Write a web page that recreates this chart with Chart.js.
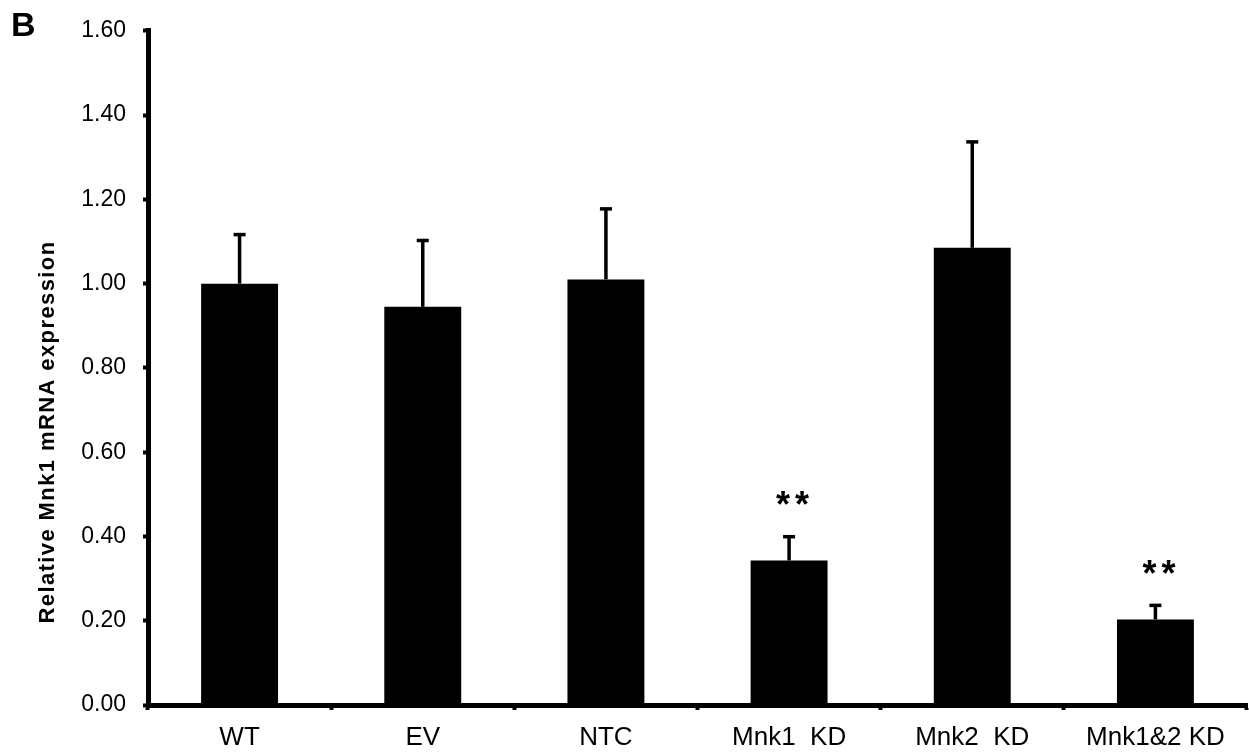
<!DOCTYPE html>
<html>
<head>
  <meta charset="UTF-8" />
  <title>Relative Mnk1 mRNA expression</title>
  <script src="https://cdn.jsdelivr.net/npm/chart.js"></script>
  <style>
    html, body { margin: 0; padding: 0; background: #fff; }
    #wrap { width: 1249px; height: 756px; }
  </style>
</head>
<body>
  <div id="wrap"><canvas id="chart" width="1249" height="756"></canvas></div>
  <script>
    const groups = ['WT', 'EV', 'NTC', 'Mnk1  KD', 'Mnk2  KD', 'Mnk1&2 KD'];
    const expression = [1.00, 0.945, 1.01, 0.343, 1.085, 0.203];
    const errors = [0.117, 0.158, 0.168, 0.057, 0.252, 0.034];
    const stars = ['', '', '', '**', '', '**'];
    const yTicks = [0, 0.2, 0.4, 0.6, 0.8, 1.0, 1.2, 1.4, 1.6];

    const font = "'Liberation Sans', Arial, sans-serif";

    // error bars, significance marks, y title and panel letter
    const extras = {
      id: 'extras',
      afterDatasetsDraw(chart) {
        const ctx = chart.ctx;
        const y = chart.scales.y;
        const bars = chart.getDatasetMeta(0).data;
        ctx.save();
        ctx.fillStyle = '#000';
        ctx.strokeStyle = '#000';
        bars.forEach((bar, i) => {
          const top = y.getPixelForValue(expression[i] + errors[i]);
          ctx.lineWidth = 3.5;
          ctx.beginPath();
          ctx.moveTo(bar.x, bar.y);
          ctx.lineTo(bar.x, top);
          ctx.stroke();
          ctx.fillRect(bar.x - 6, top - 1.5, 12, 3.5);
          if (stars[i]) {
            ctx.font = 'bold 36px ' + font;
            ctx.textAlign = 'center';
            ctx.textBaseline = 'alphabetic';
            ctx.fillText('*', bar.x - 6, top - 19);
            ctx.fillText('*', bar.x + 13, top - 19);
          }
        });
        ctx.restore();
      },
      afterDraw(chart) {
        const ctx = chart.ctx;
        ctx.save();
        ctx.fillStyle = '#000';
        ctx.font = 'bold 34px ' + font;
        ctx.textAlign = 'left';
        ctx.textBaseline = 'top';
        ctx.fillText('B', 11, 10);
        ctx.translate(48, 432);
        ctx.rotate(-Math.PI / 2);
        ctx.font = 'bold 22px ' + font;
        ctx.textAlign = 'center';
        ctx.textBaseline = 'middle';
        if ('letterSpacing' in ctx) ctx.letterSpacing = '1.4px';
        ctx.fillText('Relative Mnk1 mRNA expression', 0, 0);
        ctx.restore();
      }
    };

    new Chart(document.getElementById('chart'), {
      type: 'bar',
      data: {
        labels: groups,
        datasets: [{
          data: expression,
          backgroundColor: '#000',
          borderWidth: 0,
          categoryPercentage: 1.0,
          barPercentage: 0.42
        }]
      },
      options: {
        responsive: false,
        animation: false,
        events: [],
        layout: { padding: { top: 25, right: 2, left: 0, bottom: 0 } },
        plugins: {
          legend: { display: false },
          tooltip: { enabled: false }
        },
        scales: {
          x: {
            afterFit(scale) { scale.height = 51; },
            border: { display: true, color: '#000', width: 5 },
            grid: {
              offset: true,
              drawOnChartArea: false,
              drawTicks: true,
              tickLength: 5,
              tickWidth: 4,
              color: '#000'
            },
            ticks: {
              color: '#000',
              padding: 12,
              maxRotation: 0,
              autoSkip: false,
              font: { family: font, size: 26 }
            }
          },
          y: {
            min: 0,
            max: 1.6,
            afterFit(scale) { scale.width = 148; },
            afterBuildTicks(scale) { scale.ticks = yTicks.map(v => ({ value: v })); },
            border: { display: true, color: '#000', width: 5 },
            grid: {
              drawOnChartArea: false,
              drawTicks: true,
              tickLength: 5,
              tickWidth: 4,
              color: '#000'
            },
            ticks: {
              color: '#000',
              padding: 17,
              font: { family: font, size: 23 },
              callback: v => Number(v).toFixed(2)
            }
          }
        }
      },
      plugins: [extras]
    });
  </script>
</body>
</html>
